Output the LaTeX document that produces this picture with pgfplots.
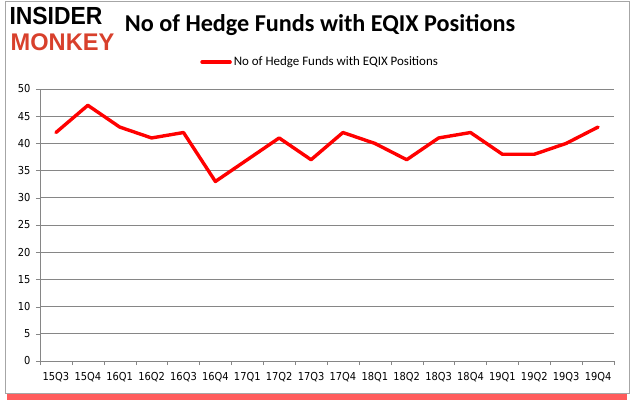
\documentclass[border=0pt]{standalone}
\usepackage{pgfplots}
\pgfplotsset{compat=1.18}
\usepackage{fontspec}
\setmainfont{DejaVu Sans Condensed}
\newfontfamily\titlefont{Carlito}
\newfontfamily\logofont{Liberation Sans}
\definecolor{gridgray}{RGB}{134,134,134}
\definecolor{imred}{RGB}{255,0,0}
\definecolor{logored}{RGB}{216,64,44}
\begin{document}
\begin{tikzpicture}
\useasboundingbox (-40bp,-44bp) rectangle (595bp,361bp);
% outer frame with red shadow
\fill[red!85, opacity=0.75] (-33bp,-39bp) rectangle (587bp,-32bp);
\draw[gray!70, line width=0.8bp, fill=white] (-35bp,-32bp) rectangle (589bp,360bp);
\begin{axis}[
    at={(0,0)}, anchor=south west,
    scale only axis,
    width=574bp, height=272bp,
    xmin=-0.5, xmax=17.5,
    ymin=0, ymax=50, ytick distance=5,
    axis x line=bottom, axis y line=left,
    axis line style={gridgray, -},
    xtick={0,...,17},
    xticklabels={15Q3,15Q4,16Q1,16Q2,16Q3,16Q4,17Q1,17Q2,17Q3,17Q4,18Q1,18Q2,18Q3,18Q4,19Q1,19Q2,19Q3,19Q4},
    minor xtick={-0.5,0.5,...,17.5},
    major x tick style={draw=none},
    minor x tick style={gridgray},
    minor tick length=4bp,
    major tick length=4bp,
    y tick style={gridgray},
    tick align=outside,
    ymajorgrids=true,
    grid style={gridgray, line width=0.8bp},
    ticklabel style={font=\fontsize{11}{12}\selectfont},
    xticklabel style={yshift=-4bp},
    yticklabel style={xshift=-2bp},
    /pgf/number format/assume math mode=true,
    legend style={
        at={(0.488,1.099)}, anchor=center,
        draw=none, fill=none,
        font=\titlefont\fontsize{13}{15}\selectfont,
        /tikz/every even column/.append style={column sep=0pt},
        inner sep=0pt,
        cells={inner xsep=1bp},
    },
    legend image code/.code={\draw[#1, line width=3.5bp, line cap=round] (0bp,0bp) -- (28bp,0bp);},
]
\addplot[imred, line width=3.4bp, line join=round, line cap=round] coordinates {
    (0,42) (1,47) (2,43) (3,41) (4,42) (5,33) (6,37) (7,41) (8,37)
    (9,42) (10,40) (11,37) (12,41) (13,42) (14,38) (15,38) (16,40) (17,43)
};
\legend{No of Hedge Funds with EQIX Positions}
\end{axis}
\node[font=\titlefont\bfseries\fontsize{24.3}{28}\selectfont] at (280bp,336bp) {No of Hedge Funds with EQIX Positions};
\node[font=\logofont\bfseries\fontsize{23}{24}\selectfont, inner sep=0pt] at (16bp,345bp) {\scalebox{1.0}[1.08]{INSIDER}};
\node[font=\logofont\bfseries\fontsize{23}{24}\selectfont, text=logored, inner sep=0pt] at (22.5bp,319bp) {\scalebox{1.03}[1.05]{MONKEY}};
\end{tikzpicture}
\end{document}
